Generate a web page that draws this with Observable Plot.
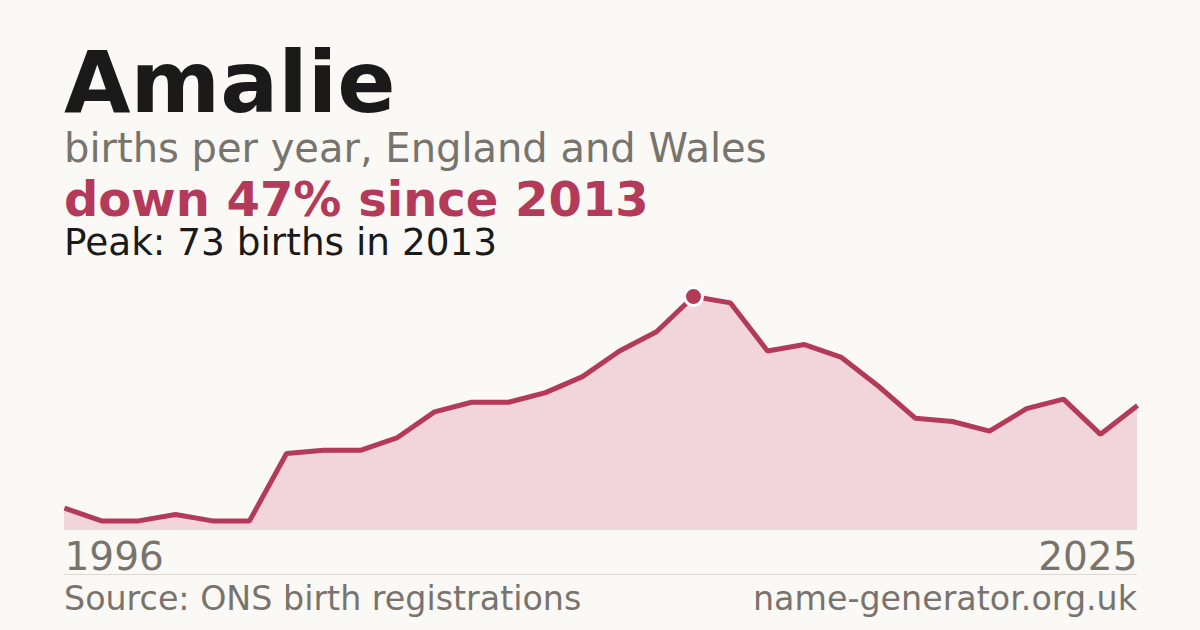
<!DOCTYPE html>
<html>
<head>
<meta charset="utf-8">
<script src="https://cdn.jsdelivr.net/npm/d3@7"></script>
<script src="https://cdn.jsdelivr.net/npm/@observablehq/plot@0.6"></script>
<style>
  html, body { margin: 0; padding: 0; }
  body { width: 1200px; height: 630px; background: #faf9f5; position: relative; overflow: hidden; font-family: "DejaVu Sans", sans-serif; }
  .t { position: absolute; left: 64px; line-height: 0.9; white-space: nowrap; }
  #title { top: 44px; font-size: 86px; font-weight: bold; color: #1a1a1a; }
  #sub { top: 129.5px; font-size: 40px; color: #78746d; }
  #change { top: 177.5px; font-size: 48px; font-weight: bold; color: #b43a59; }
  #peak { top: 226px; font-size: 37.4px; color: #1a1a1a; }
  #rule { position: absolute; left: 64px; width: 1073px; top: 574px; height: 1px; background: #dcd9d2; }
  #source { top: 583.5px; font-size: 33.3px; color: #78746d; }
  #site { top: 583.5px; left: auto; right: 63px; font-size: 33.3px; color: #78746d; }
  #chart { position: absolute; left: 0; top: 270px; }
</style>
</head>
<body>
<div class="t" id="title">Amalie</div>
<div class="t" id="sub">births per year, England and Wales</div>
<div class="t" id="change">down 47% since 2013</div>
<div class="t" id="peak">Peak: 73 births in 2013</div>
<div id="chart"></div>
<div id="rule"></div>
<div class="t" id="source">Source: ONS birth registrations</div>
<div class="t" id="site">name-generator.org.uk</div>
<script>
const years = [1996, 1997, 1998, 1999, 2000, 2001, 2002, 2003, 2004, 2005,
               2006, 2007, 2008, 2009, 2010, 2011, 2012, 2013, 2014, 2015,
               2016, 2017, 2018, 2019, 2020, 2021, 2022, 2023, 2024, 2025];
const births = [7, 3, 3, 5, 3, 3, 24, 25, 25, 29,
                37, 40, 40, 43, 48, 56, 62, 73, 71, 56,
                58, 54, 45, 35, 34, 31, 38, 41, 30, 39];
const peakYear = 2013;
const peakValue = 73;
const endLabels = ["1996", "2025"];

const data = years.map((y, i) => ({year: y, value: births[i]}));
const red = "#b43a59";

const chart = Plot.plot({
  width: 1200,
  height: 310,
  marginLeft: 64,
  marginRight: 63,
  marginTop: 26,
  marginBottom: 50,
  style: {background: "transparent", fontFamily: "DejaVu Sans, sans-serif"},
  x: {domain: [years[0], years[years.length - 1]], axis: null},
  y: {domain: [0, peakValue], axis: null},
  marks: [
    Plot.areaY(data, {x: "year", y: "value", fill: "#f1d5da"}),
    Plot.line(data, {x: "year", y: "value", stroke: red, strokeWidth: 5, strokeLinecap: "butt", strokeLinejoin: "miter"}),
    Plot.dot([{year: peakYear, value: peakValue}], {x: "year", y: "value", r: 9, fill: red, stroke: "white", strokeWidth: 3}),
    Plot.text([{year: years[0], label: endLabels[0]}], {x: "year", y: () => 0, text: "label", textAnchor: "start", lineAnchor: "bottom", dy: 39, fontSize: 39, fill: "#78746d"}),
    Plot.text([{year: years[years.length - 1], label: endLabels[1]}], {x: "year", y: () => 0, text: "label", textAnchor: "end", lineAnchor: "bottom", dy: 39, fontSize: 39, fill: "#78746d"})
  ]
});
document.getElementById("chart").appendChild(chart);
</script>
</body>
</html>
